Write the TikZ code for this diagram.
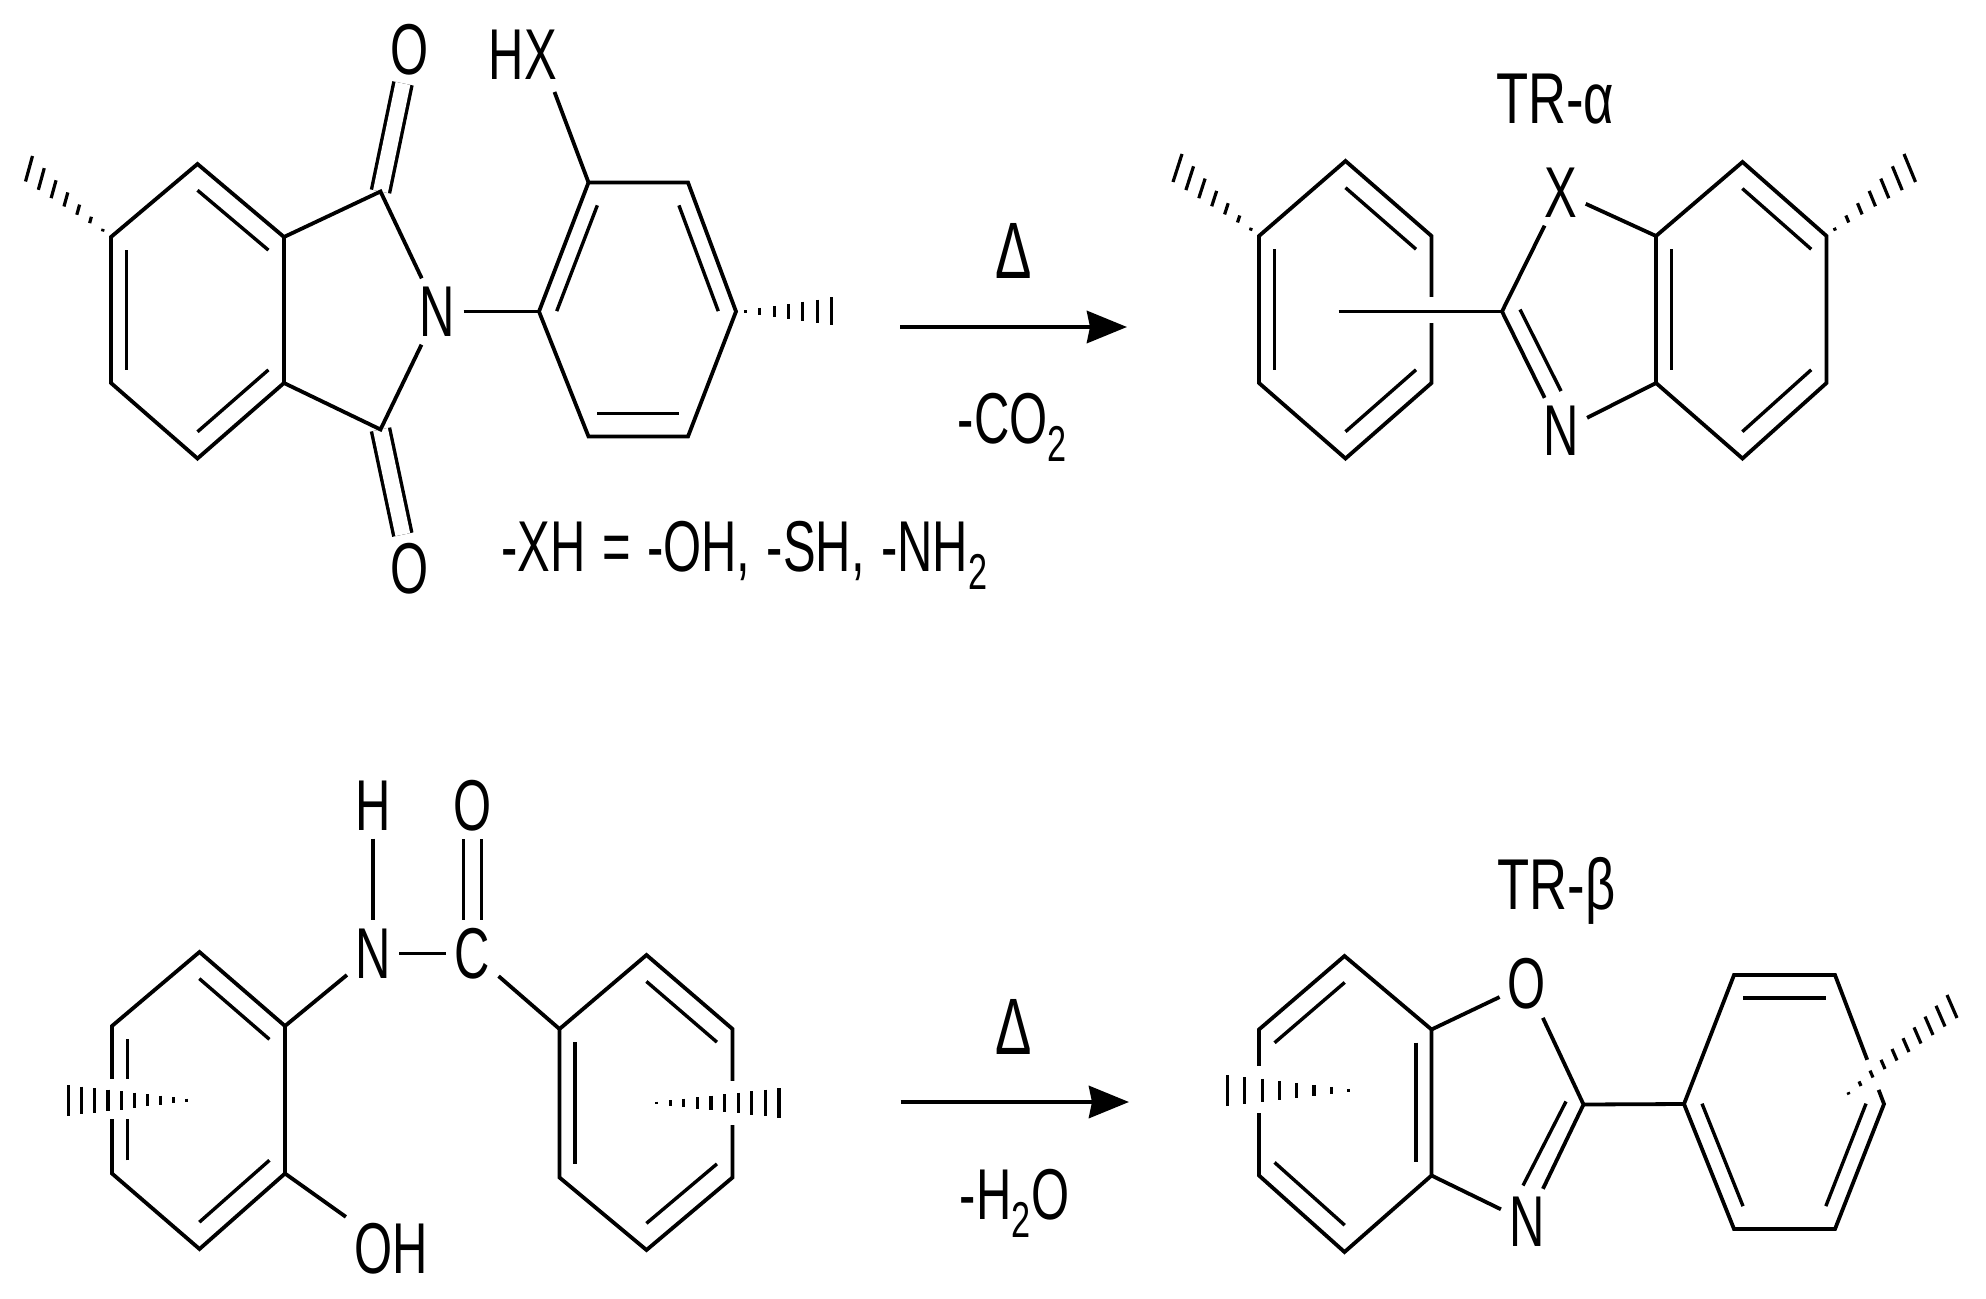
\documentclass[tikz,border=0pt]{standalone}
\usepackage{fontspec}
\setmainfont[FakeStretch=0.68]{Liberation Sans}
\newfontfamily\titlefont[FakeStretch=0.73]{Liberation Sans}
\usetikzlibrary{calc,arrows.meta}

\tikzset{
  bond/.style={line width=1.9pt, line join=miter},
  innerbond/.style={line width=1.7pt},
  dblbond/.style={line width=1.7pt, double=white, double distance=7.5pt},
  hashline/.style={line width=1.6pt},
  gapline/.style={white, line width=18pt},
  atom/.style={inner sep=4pt, font=\fontsize{36}{40}\selectfont},
  heat/.style={inner sep=4pt, font=\fontsize{40}{44}\selectfont},
  title/.style={inner sep=4pt, font=\titlefont\fontsize{36}{40}\selectfont},
  rxnarrow/.style={line width=2.4pt, -{Stealth[length=20pt, width=16pt, inset=1.5pt]}}
}
% vertices of a ring: #1 = name, #2 = list of x/y
\newcommand{\ringat}[2]{
  \foreach \x/\y [count=\k] in {#2} {\coordinate (#1\k) at (\x,\y);}
}
% inner line of a double bond, pulled towards the ring centre
\newcommand{\innerline}[3]{
  \draw[innerbond] ($(#1)!.18!(#3)$) -- ($(#2)!.18!(#3)$);
}
% hashed wedge: narrow end #1, wide end between #2 and #3, #4 strokes
\newcommand{\hashwedge}[4]{
  \foreach \i in {1,...,#4} {
    \pgfmathsetmacro\t{.1+.9*(\i-1)/(#4-1)}
    \draw[hashline] ($(#1)!\t!(#2)$) -- ($(#1)!\t!(#3)$);
  }
}

\begin{document}
\begin{tikzpicture}[x=0.5pt, y=-0.5pt]
  \useasboundingbox (0,0) rectangle (1986,1299);

  % imide
  \ringat{a}{197.5/164,284/237,284/383,197.5/458.5,111/383,111/237}
  \coordinate (acen) at (197.5,310);
  \coordinate (ca) at (380.5,191.5);
  \coordinate (cb) at (380.5,429.5);
  \node[atom] (nN) at (437.5,311.5) {N};
  \node[atom] (oA) at (410,49.5) {O};
  \node[atom] (oB) at (410,568.5) {O};
  \node[atom] (hx) at (523,54.5) {HX};
  \draw[dblbond] (ca) -- (oA);
  \draw[dblbond] (cb) -- (oB);
  \draw[bond] (a1) -- (a2) -- (a3) -- (a4) -- (a5) -- (a6) -- cycle;
  \draw[bond] (a2) -- (ca) -- (nN) -- (cb) -- (a3);
  \innerline{a1}{a2}{acen}
  \innerline{a3}{a4}{acen}
  \innerline{a5}{a6}{acen}
  \coordinate (hwa) at (32.5,156);
  \coordinate (hwb) at (25.5,181.5);
  \hashwedge{a6}{hwa}{hwb}{7}

  \ringat{b}{539/311.5,588.5/182.5,688/182.5,736/311.5,688/436.5,588.5/436.5}
  \coordinate (bcen) at (637.5,309.5);
  \coordinate (hxb) at (554.5,92);
  \draw[bond] (b1) -- (b2) -- (b3) -- (b4) -- (b5) -- (b6) -- cycle;
  \draw[bond] (nN) -- (b1);
  \draw[bond] (hxb) -- (b2);
  \innerline{b1}{b2}{bcen}
  \innerline{b3}{b4}{bcen}
  \innerline{b5}{b6}{bcen}
  \coordinate (hwc) at (831.5,297.5);
  \coordinate (hwd) at (831.5,325.5);
  \hashwedge{b4}{hwc}{hwd}{7}
  \node[atom, anchor=base west, inner sep=0pt] (xhtext) at (501,571)
    {\spaceskip=8.2pt\relax -XH = -OH, -SH, -NH\textsubscript{2}};

  % first reaction
  \coordinate (arA) at (900,327);
  \coordinate (arB) at (1127,327);
  \draw[rxnarrow] (arA) -- (arB);
  \node[heat] (heatA) at (1014,251) {Δ};
  \node[atom, anchor=base west, inner sep=0pt] (lossA) at (957.5,443.5) {-CO\textsubscript{2}};

  % TR-alpha
  \node[title] (tra) at (1555,99) {TR-α};
  \ringat{c}{1345.5/161,1431.5/236,1431.5/383,1345.5/458.5,1259/383,1259/236}
  \coordinate (ccen) at (1345.5,309.5);
  \draw[bond] (c1) -- (c2) -- (c3) -- (c4) -- (c5) -- (c6) -- cycle;
  \innerline{c1}{c2}{ccen}
  \innerline{c3}{c4}{ccen}
  \innerline{c5}{c6}{ccen}
  \coordinate (cga) at (1431.5,297);
  \coordinate (cgb) at (1431.5,323.5);
  \draw[gapline] (cga) -- (cgb);
  \coordinate (cx) at (1502,311.5);
  \coordinate (cmid) at (1338.5,311.5);
  \draw[bond] (cmid) -- (cx);
  \coordinate (hwe) at (1182,154);
  \coordinate (hwf) at (1173,182);
  \hashwedge{c6}{hwe}{hwf}{7}

  \ringat{d}{1656/236,1742.5/162,1826.5/236,1826.5/383,1742.5/458.5,1656/383}
  \coordinate (dcen) at (1741.5,309.5);
  \node[atom] (xA) at (1561,192.5) {X};
  \node[atom] (nA) at (1561,431) {N};
  \draw[bond] (d1) -- (d2) -- (d3) -- (d4) -- (d5) -- (d6) -- cycle;
  \draw[bond] (xA) -- (d1);
  \draw[bond] (xA) -- (cx) -- (nA) -- (d6);
  \coordinate (cxi) at (1520,309.5);
  \coordinate (nAi) at (1561,391);
  \draw[innerbond] (cxi) -- (nAi);
  \innerline{d2}{d3}{dcen}
  \innerline{d4}{d5}{dcen}
  \innerline{d6}{d1}{dcen}
  \coordinate (hwg) at (1904,154);
  \coordinate (hwh) at (1915.5,182);
  \hashwedge{d3}{hwg}{hwh}{7}

  % amide
  \ringat{e}{199.5/952,285/1026,285/1173.5,199.5/1249,112/1173.5,112/1026}
  \coordinate (ecen) at (198.5,1100);
  \node[atom] (hB) at (373,805.5) {H};
  \node[atom] (nB) at (373,953.5) {N};
  \node[atom] (cB) at (472.5,953.5) {C};
  \node[atom] (oC) at (472.5,805.5) {O};
  \node[atom] (oh) at (391,1249) {OH};
  \draw[dblbond] (cB) -- (oC);
  \draw[bond] (e1) -- (e2) -- (e3) -- (e4) -- (e5) -- (e6) -- cycle;
  \draw[bond] (hB) -- (nB) -- (cB);
  \draw[bond] (nB) -- (e2);
  \draw[bond] (e3) -- (oh);
  \innerline{e1}{e2}{ecen}
  \innerline{e3}{e4}{ecen}
  \innerline{e5}{e6}{ecen}
  \coordinate (ega) at (119,1078.5);
  \coordinate (egb) at (119,1119);
  \draw[gapline] (ega) -- (egb);
  \coordinate (hwi) at (200,1100);
  \coordinate (hwj) at (68.5,1085);
  \coordinate (hwk) at (68.5,1116);
  \hashwedge{hwi}{hwj}{hwk}{10}

  \ringat{f}{646.5/955,732.5/1029,732.5/1177.5,646.5/1250,559.5/1177.5,559.5/1029}
  \coordinate (fcen) at (646,1102);
  \draw[bond] (f1) -- (f2) -- (f3) -- (f4) -- (f5) -- (f6) -- cycle;
  \draw[bond] (cB) -- (f6);
  \innerline{f1}{f2}{fcen}
  \innerline{f3}{f4}{fcen}
  \innerline{f5}{f6}{fcen}
  \coordinate (fga) at (732.5,1080.5);
  \coordinate (fgb) at (732.5,1125);
  \draw[gapline] (fga) -- (fgb);
  \coordinate (hwl) at (643,1103);
  \coordinate (hwm) at (779,1088);
  \coordinate (hwn) at (779,1117.5);
  \hashwedge{hwl}{hwm}{hwn}{10}

  % second reaction
  \coordinate (arC) at (900.5,1102);
  \coordinate (arD) at (1129,1102);
  \draw[rxnarrow] (arC) -- (arD);
  \node[heat] (heatB) at (1014,1027) {Δ};
  \node[atom, anchor=base west, inner sep=0pt] (lossB) at (959.5,1219.5) {-H\textsubscript{2}O};

  % TR-beta
  \node[title] (trb) at (1556.5,891) {TR-β};
  \ringat{g}{1344.5/956,1431.5/1029.5,1431.5/1175.5,1344.5/1252,1259/1175.5,1259/1029.5}
  \coordinate (gcen) at (1345.5,1103);
  \node[atom] (oD) at (1527,984) {O};
  \node[atom] (nC) at (1527,1222) {N};
  \coordinate (cy) at (1583.5,1104.5);
  \draw[bond] (g1) -- (g2) -- (g3) -- (g4) -- (g5) -- (g6) -- cycle;
  \draw[bond] (oD) -- (g2);
  \draw[bond] (oD) -- (cy) -- (nC) -- (g3);
  \coordinate (cyi) at (1566,1101.5);
  \coordinate (nCi) at (1523,1185.5);
  \draw[innerbond] (cyi) -- (nCi);
  \innerline{g6}{g1}{gcen}
  \innerline{g2}{g3}{gcen}
  \innerline{g4}{g5}{gcen}
  \coordinate (gga) at (1259,1065.5);
  \coordinate (ggb) at (1259,1112.5);
  \draw[gapline] (gga) -- (ggb);
  \coordinate (hwo) at (1362,1090.5);
  \coordinate (hwp) at (1227.5,1075);
  \coordinate (hwq) at (1227.5,1105.5);
  \hashwedge{hwo}{hwp}{hwq}{8}

  \ringat{h}{1684/1104,1734/975,1835/975,1884/1104,1835/1229,1734/1229}
  \coordinate (hcen) at (1784,1102);
  \draw[bond] (h1) -- (h2) -- (h3) -- (h4) -- (h5) -- (h6) -- cycle;
  \draw[bond] (cy) -- (h1);
  \innerline{h2}{h3}{hcen}
  \innerline{h4}{h5}{hcen}
  \innerline{h6}{h1}{hcen}
  \coordinate (hga) at (1867,1060);
  \coordinate (hgb) at (1878,1090);
  \draw[gapline] (hga) -- (hgb);
  \coordinate (hws) at (1837,1103);
  \coordinate (hwt) at (1947,995);
  \coordinate (hwu) at (1957,1018);
  \hashwedge{hws}{hwt}{hwu}{10}
\end{tikzpicture}
\end{document}
